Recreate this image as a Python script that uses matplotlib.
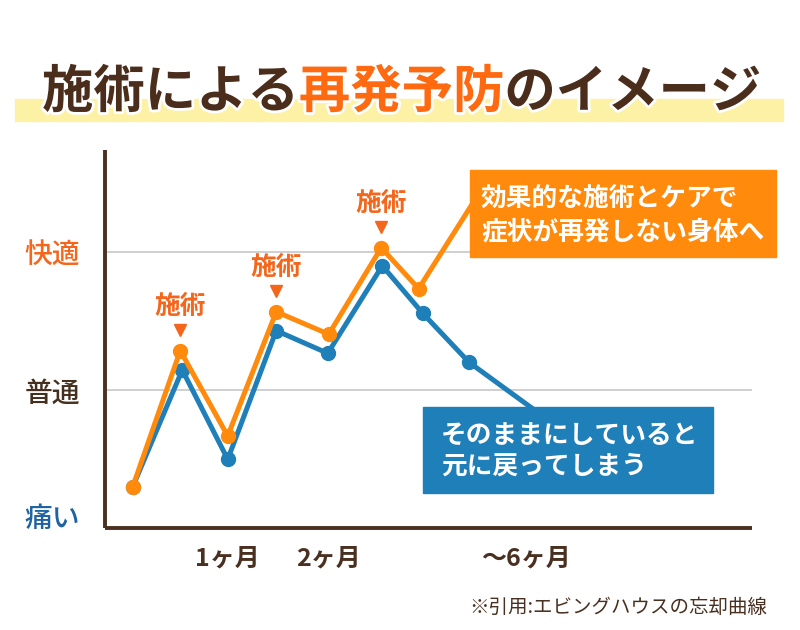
import matplotlib
matplotlib.use("Agg")
import matplotlib.pyplot as plt
import matplotlib.patches as patches
import matplotlib.patheffects as pe
from matplotlib.transforms import offset_copy

plt.rcParams['font.family'] = ['Noto Sans CJK JP', 'DejaVu Sans']

# data (x in months, y: 0 = 普通, 1 = 快適)
care_x = [0.06, 0.53, 1.0, 1.48, 2.0, 2.52, 2.89, 3.50]
care_y = [-0.70, 0.285, -0.333, 0.567, 0.404, 1.031, 0.734, 1.44]
none_x = [0.06, 0.55, 1.0, 1.48, 1.99, 2.53, 2.93, 3.39, 4.14]
none_y = [-0.70, 0.145, -0.502, 0.43, 0.266, 0.90, 0.556, 0.20, -0.20]
treat_idx = [1, 3, 5]

xtick_pos = [1, 2, 3.95]
xtick_labels = ['1ヶ月', '2ヶ月', '〜6ヶ月']
ytick_pos = [1, 0, -0.91]
ytick_labels = ['快適', '普通', '痛い']
ytick_colors = ['#f5651c', '#45301f', '#1f64a0']

brown = '#4a3020'
orange = '#ff8a0c'
blue = '#1f7fb8'
red_orange = '#f3661b'

W, H = 800, 630
fig = plt.figure(figsize=(W / 100, H / 100), dpi=100)
fig.patch.set_facecolor('white')

def fx(px):
    return px / W

def fy(py):
    return 1 - py / H

ax = fig.add_axes([fx(105), fy(528), fx(752) - fx(105), fy(150) - fy(528)])
ax.set_xlim(-0.215, 6.19)
ax.set_ylim(-1.0, 1.739)

for s in ['top', 'right']:
    ax.spines[s].set_visible(False)
for s in ['left', 'bottom']:
    ax.spines[s].set_color(brown)
    ax.spines[s].set_linewidth(2.8)
    ax.spines[s].set_capstyle('butt')

ax.axhline(1, color='#cccccc', lw=1.3, zorder=1)
ax.axhline(0, color='#cccccc', lw=1.3, zorder=1)

ax.plot(none_x, none_y, color=blue, lw=3.6, marker='o', ms=10,
        markevery=list(range(len(none_x) - 1)), zorder=3, solid_joinstyle='miter')
ax.plot(care_x, care_y, color=orange, lw=3.6, marker='o', ms=10,
        markevery=list(range(len(care_x) - 1)), zorder=4, solid_joinstyle='miter')

ax.set_xticks(xtick_pos)
ax.set_xticklabels(xtick_labels, fontsize=18, color=brown, fontweight='bold')
ax.tick_params(axis='x', length=0, pad=13)
ax.set_yticks(ytick_pos)
ax.set_yticklabels(ytick_labels, fontsize=20, fontweight='medium')
ax.tick_params(axis='y', length=0, pad=18)
for lab, c in zip(ax.get_yticklabels(), ytick_colors):
    lab.set_color(c)

# 施術 markers
tri_tr = offset_copy(ax.transData, fig=fig, x=0, y=21, units='dots')
for i in treat_idx:
    ax.plot(care_x[i], care_y[i], marker='v', ms=9, color=red_orange,
            transform=tri_tr, zorder=5, clip_on=False)
    ax.annotate('施術', xy=(care_x[i], care_y[i]), xytext=(0, 44),
                textcoords='offset pixels', ha='center', va='center',
                fontsize=18.5, fontweight='bold', color=red_orange)

# boxes
box1 = patches.Rectangle((fx(470), fy(257)), fx(776) - fx(470), fy(170) - fy(257),
                         transform=fig.transFigure, color=orange, zorder=10)
fig.add_artist(box1)
fig.text(fx(481), fy(198), '効果的な施術とケアで', fontsize=18.5, fontweight='bold',
         color='white', va='center', ha='left', zorder=11)
fig.text(fx(481), fy(232), '症状が再発しない身体へ', fontsize=18.5, fontweight='bold',
         color='white', va='center', ha='left', zorder=11)

box2 = patches.Rectangle((fx(423), fy(493)), fx(713) - fx(423), fy(407) - fy(493),
                         transform=fig.transFigure, color=blue, zorder=10)
fig.add_artist(box2)
fig.text(fx(441), fy(435), 'そのままにしていると', fontsize=18.5, fontweight='bold',
         color='white', va='center', ha='left', zorder=11)
fig.text(fx(441), fy(466), '元に戻ってしまう', fontsize=18.5, fontweight='bold',
         color='white', va='center', ha='left', zorder=11)

# title band + title
band = patches.Rectangle((fx(15), fy(121)), fx(783) - fx(15), fy(99) - fy(121),
                         transform=fig.transFigure, color='#fdf1a6', zorder=0)
fig.add_artist(band)

parts = [('施術による', '#4b2d1b'), ('再発予防', '#ff6a10'), ('のイメージ', '#4b2d1b')]
fig.canvas.draw()
renderer = fig.canvas.get_renderer()
x = 42
for txt, col in parts:
    t = fig.text(fx(x), fy(92), txt, fontsize=37, fontweight='bold', color=col,
                 va='center', ha='left', zorder=5,
                 path_effects=[pe.withStroke(linewidth=4, foreground='white')])
    bb = t.get_window_extent(renderer=renderer)
    x += bb.width

fig.text(fx(767), fy(607), '※引用:エビングハウスの忘却曲線', fontsize=14, color=brown,
         ha='right', va='center')

fig.savefig('out.png', dpi=100)
